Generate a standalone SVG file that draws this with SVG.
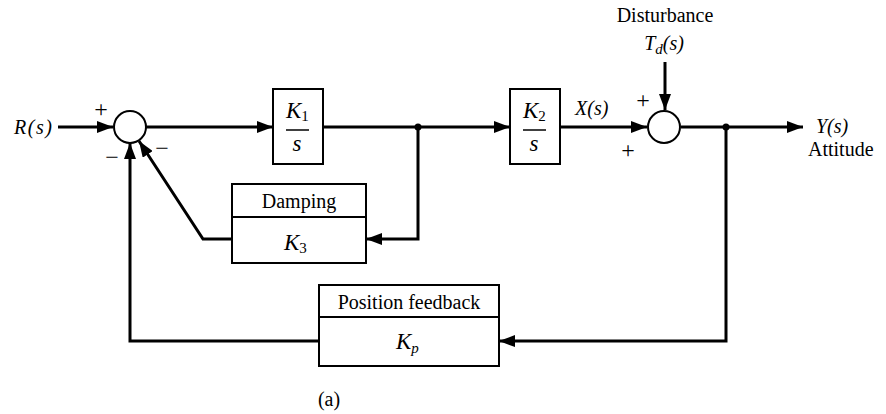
<svg xmlns="http://www.w3.org/2000/svg" width="886" height="414" viewBox="0 0 886 414">
<style>
.ln{fill:none;stroke:#000;stroke-width:3;}
.bx{fill:#fff;stroke:#000;stroke-width:2;}
.t{font-family:"Liberation Serif","Times New Roman",serif;font-size:20px;fill:#000;}
.i{font-style:italic;}
.m{text-anchor:middle;}
.k{font-size:23px;}
.sub{font-size:15px;font-style:normal;}
.subi{font-size:15px;font-style:italic;}
.sg{font-size:24px;}
.bar{stroke:#000;stroke-width:1.5;}
</style>
<defs>
<marker id="ah" markerWidth="16" markerHeight="12" viewBox="0 0 16 12" refX="16" refY="6" orient="auto" markerUnits="userSpaceOnUse">
<path d="M0,0 L16,6 L0,12 Z" fill="#000"/>
</marker>
</defs>
<rect width="886" height="414" fill="#fff"/>
<g id="connectors">
<line class="ln" x1="58" y1="127" x2="113" y2="127" marker-end="url(#ah)"/>
<line class="ln" x1="146" y1="127" x2="273" y2="127" marker-end="url(#ah)"/>
<line class="ln" x1="323" y1="127" x2="510" y2="127" marker-end="url(#ah)"/>
<line class="ln" x1="560" y1="127" x2="647" y2="127" marker-end="url(#ah)"/>
<line class="ln" x1="665" y1="62" x2="665" y2="110" marker-end="url(#ah)"/>
<line class="ln" x1="681" y1="127" x2="803" y2="127" marker-end="url(#ah)"/>
<polyline class="ln" points="418,127 418,239 366,239" marker-end="url(#ah)"/>
<polyline class="ln" points="232,239 203,239 139,141" marker-end="url(#ah)"/>
<polyline class="ln" points="726,127 726,341 499,341" marker-end="url(#ah)"/>
<polyline class="ln" points="319,341 130,341 130,143" marker-end="url(#ah)"/>
<circle cx="418" cy="127" r="3.5" fill="#000"/>
<circle cx="726" cy="127" r="3.5" fill="#000"/>
</g>
<g id="sum1">
<circle class="bx" cx="130" cy="127" r="16"/>
<text class="t m sg" x="101" y="117">+</text>
<text class="t m sg" x="112" y="165">−</text>
<text class="t m sg" x="162" y="156">−</text>
</g>
<g id="sum2">
<circle class="bx" cx="664" cy="127" r="16"/>
<text class="t m sg" x="643" y="108">+</text>
<text class="t m sg" x="628" y="158">+</text>
</g>
<g id="input">
<text class="t i" x="14" y="134" letter-spacing="1.5">R(s)</text>
</g>
<g id="K1">
<rect class="bx" x="273" y="89" width="50" height="75"/>
<text class="t i k" x="286" y="118">K<tspan class="sub" dy="3">1</tspan></text>
<line class="bar" x1="286" y1="130" x2="309" y2="130"/>
<text class="t i k m" x="297" y="151">s</text>
</g>
<g id="K2">
<rect class="bx" x="510" y="89" width="50" height="75"/>
<text class="t i k" x="523" y="118">K<tspan class="sub" dy="3">2</tspan></text>
<line class="bar" x1="523" y1="130" x2="546" y2="130"/>
<text class="t i k m" x="534" y="151">s</text>
</g>
<g id="xs">
<text class="t i" x="575" y="115">X(s)</text>
</g>
<g id="disturbance">
<text class="t m" x="665" y="22">Disturbance</text>
<text class="t i m" x="664" y="50">T<tspan font-size="15" dy="4">d</tspan><tspan dy="-4">(s)</tspan></text>
</g>
<g id="output">
<text class="t i" x="816" y="133">Y(s)</text>
<text class="t" x="808" y="156">Attitude</text>
</g>
<g id="damping">
<rect class="bx" x="232" y="184" width="134" height="79"/>
<line x1="232" y1="217" x2="366" y2="217" stroke="#000" stroke-width="2"/>
<text class="t m" x="299" y="208">Damping</text>
<text class="t i k" x="284" y="250">K<tspan class="sub" dy="3">3</tspan></text>
</g>
<g id="position">
<rect class="bx" x="319" y="285" width="180" height="81"/>
<line x1="319" y1="317" x2="499" y2="317" stroke="#000" stroke-width="2"/>
<text class="t m" x="409" y="309">Position feedback</text>
<text class="t i k" x="396" y="349">K<tspan class="subi" dy="4">p</tspan></text>
</g>
<g id="caption">
<text class="t m" x="329" y="406">(a)</text>
</g>
</svg>
